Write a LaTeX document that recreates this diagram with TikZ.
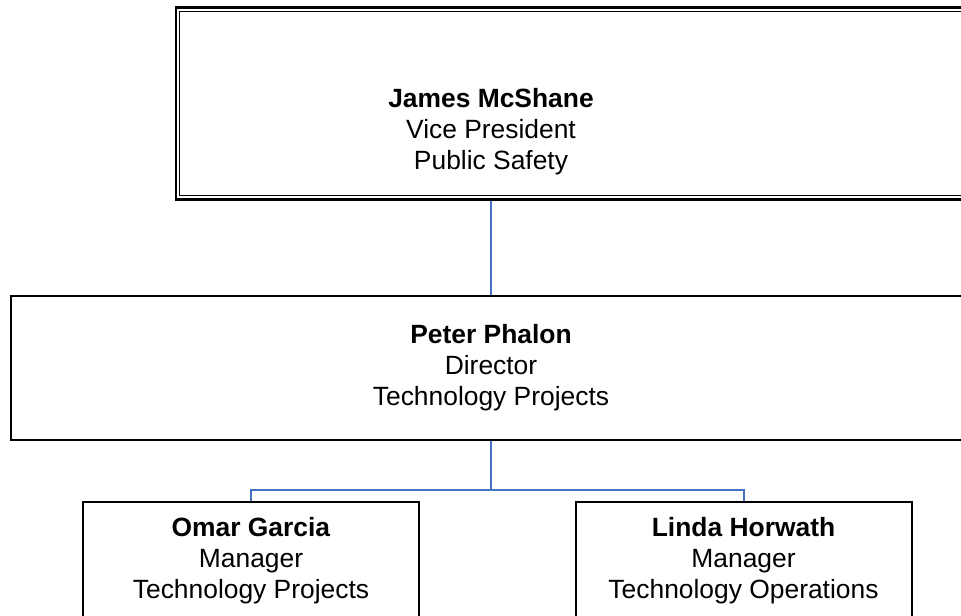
\documentclass[tikz,border=0pt]{standalone}
\usepackage{fontspec}
\setmainfont{Liberation Sans}
\usetikzlibrary{positioning, calc}

\begin{document}
\begin{tikzpicture}[
        x=0.5pt, y=-0.5pt,
        txt/.style={align=center, font=\fontsize{13.2}{15.5}\selectfont},
        box/.style={draw, rectangle, line width=1pt, txt},
        link/.style={line width=1pt, draw={rgb,255:red,68;green,114;blue,196}}
    ]
    \path[use as bounding box, clip] (0,0) rectangle (961,615);

    % Define the blocks
    \node[box, line width=1.2pt, minimum width=462pt, minimum height=96pt] (VP) at (638,103.5) {};
    \draw[line width=0.5pt] ($(VP.north west)+(5,5)$) rectangle ($(VP.south east)+(-5,-5)$);
    \node[txt] (VPT) at (491,131.5) {\textbf{James McShane}\\Vice President\\Public Safety};
    \node[box, minimum width=480pt, minimum height=72pt] (D) at (491,368) {\textbf{Peter Phalon}\\Director\\Technology Projects};
    \node[box, minimum width=168pt, minimum height=59pt] (M1) at (251,561) {\textbf{Omar Garcia}\\Manager\\Technology Projects};
    \node[box, minimum width=168pt, minimum height=59pt] (M2) at (743.5,561) {\textbf{Linda Horwath}\\Manager\\Technology Operations};
    \coordinate (bus) at (491,490);

    % Draw the connecting lines
    \draw[link] (VP.south -| VPT) -- (D.north);
    \draw[link] (D.south) -- (bus);
    \draw[link] (bus) -| (M1.north);
    \draw[link] (bus) -| (M2.north);

\end{tikzpicture}
\end{document}
